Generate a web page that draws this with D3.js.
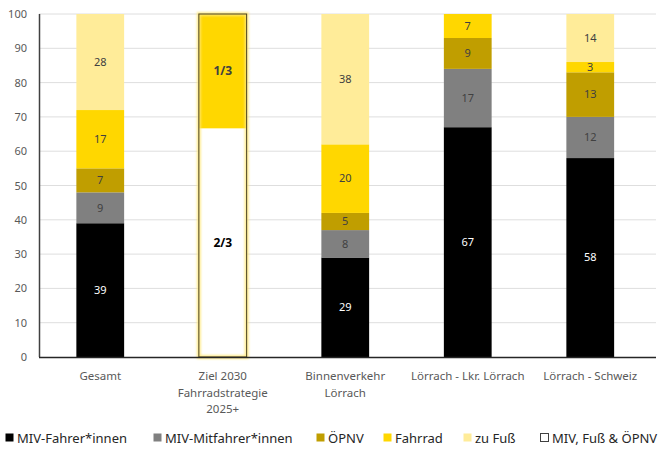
<!DOCTYPE html>
<html>
<head>
<meta charset="utf-8">
<script src="https://cdn.jsdelivr.net/npm/d3@7"></script>
<style>
  html, body { margin: 0; padding: 0; background: #fff; }
  svg { display: block; font-family: "Noto Sans", "Open Sans", sans-serif; }
</style>
</head>
<body>
<svg id="chart" width="662" height="450"></svg>
<script>
// Modal split per relation (percent)
const categories = ["Gesamt", "Ziel 2030|Fahrradstrategie|2025+", "Binnenverkehr|Lörrach", "Lörrach - Lkr. Lörrach", "Lörrach - Schweiz"];
const seriesNames = ["MIV-Fahrer*innen", "MIV-Mitfahrer*innen", "ÖPNV", "Fahrrad", "zu Fuß", "MIV, Fuß & ÖPNV"];
const mivFahrer    = [39, 0, 29, 67, 58];
const mivMitfahrer = [9, 0, 8, 17, 12];
const oepnv        = [7, 0, 5, 9, 13];
const fahrrad      = [17, 100 / 3, 20, 7, 3];
const zuFuss       = [28, 0, 38, 0, 14];
const mivFussOepnv = [0, 200 / 3, 0, 0, 0];
// labels for the target shares of the 2030 strategy
const fractionLabels = { "MIV, Fuß & ÖPNV": "2/3", "Fahrrad": "1/3" };
const yTicks = [0, 10, 20, 30, 40, 50, 60, 70, 80, 90, 100];

const colors = {
  "MIV-Fahrer*innen": "#000000",
  "MIV-Mitfahrer*innen": "#808080",
  "ÖPNV": "#C09E00",
  "Fahrrad": "#FFD700",
  "zu Fuß": "#FFEC99",
  "MIV, Fuß & ÖPNV": "#FFFFFF"
};
const labelColors = {
  "MIV-Fahrer*innen": "#ffffff",
  "MIV-Mitfahrer*innen": "#404040",
  "ÖPNV": "#404040",
  "Fahrrad": "#404040",
  "zu Fuß": "#404040",
  "MIV, Fuß & ÖPNV": "#000000"
};

// stacking order from bottom to top
const stackOrder = ["MIV, Fuß & ÖPNV", "MIV-Fahrer*innen", "MIV-Mitfahrer*innen", "ÖPNV", "Fahrrad", "zu Fuß"];
const valuesBySeries = {
  "MIV-Fahrer*innen": mivFahrer,
  "MIV-Mitfahrer*innen": mivMitfahrer,
  "ÖPNV": oepnv,
  "Fahrrad": fahrrad,
  "zu Fuß": zuFuss,
  "MIV, Fuß & ÖPNV": mivFussOepnv
};
const rows = categories.map((c, i) => {
  const r = { category: c };
  seriesNames.forEach(s => r[s] = valuesBySeries[s][i]);
  return r;
});

const svg = d3.select("#chart");
const margin = { left: 39, right: 10.5, top: 14, bottom: 93 };
const W = 662, H = 450;

const x = d3.scaleBand()
  .domain(categories)
  .range([margin.left, W - margin.right])
  .paddingInner(0.61)
  .paddingOuter(0.305);
const y = d3.scaleLinear().domain([0, 100]).range([H - margin.bottom, margin.top]);

// glow filter for the target bar
const defs = svg.append("defs");
const glow = defs.append("filter").attr("id", "glow")
  .attr("x", "-30%").attr("y", "-10%").attr("width", "160%").attr("height", "120%");
glow.append("feGaussianBlur").attr("stdDeviation", 1.3);

// gridlines
svg.append("g")
  .selectAll("line")
  .data(yTicks.filter(t => t > 0))
  .join("line")
  .attr("x1", margin.left).attr("x2", W - 6)
  .attr("y1", d => y(d)).attr("y2", d => y(d))
  .attr("stroke", "#dedede").attr("stroke-width", 1);

// y axis labels
const yAxis = d3.axisLeft(y).tickValues(yTicks).tickSize(0).tickPadding(12);
const gy = svg.append("g").attr("transform", `translate(${margin.left},0)`).call(yAxis);
gy.select(".domain").remove();
gy.selectAll("text").attr("fill", "#595959").attr("font-size", 11).attr("font-family", "Noto Sans, sans-serif");

// stacked bars
const stack = d3.stack().keys(stackOrder)(rows);
const targetIndex = 1;

const layers = svg.append("g").selectAll("g")
  .data(stack)
  .join("g")
  .attr("fill", d => colors[d.key]);

layers.selectAll("rect")
  .data(d => d.map(p => ({ key: d.key, p })))
  .join("rect")
  .filter(d => d.p[1] - d.p[0] > 0)
  .attr("x", d => x(d.p.data.category))
  .attr("width", x.bandwidth())
  .attr("y", d => y(d.p[1]))
  .attr("height", d => y(d.p[0]) - y(d.p[1]));

// outline + glow around the 2030 target bar
const tCat = categories[targetIndex];
const tTop = d3.max(stack, s => s[targetIndex][1]);
const tg = svg.append("g");
tg.append("rect")
  .attr("x", x(tCat)).attr("width", x.bandwidth())
  .attr("y", y(tTop)).attr("height", y(0) - y(tTop))
  .attr("fill", "none").attr("stroke", "#FFE97A").attr("stroke-width", 4)
  .attr("stroke-opacity", 0.85)
  .attr("filter", "url(#glow)");
tg.append("rect")
  .attr("x", x(tCat)).attr("width", x.bandwidth())
  .attr("y", y(tTop)).attr("height", y(0) - y(tTop))
  .attr("fill", "none").attr("stroke", "#4a4020").attr("stroke-width", 1);

// value labels
const labels = svg.append("g").attr("text-anchor", "middle");
stack.forEach(s => {
  s.forEach(p => {
    const v = p[1] - p[0];
    if (v <= 0) return;
    const frac = p.data.category === tCat ? fractionLabels[s.key] : null;
    labels.append("text")
      .attr("x", x(p.data.category) + x.bandwidth() / 2)
      .attr("y", y((p[0] + p[1]) / 2))
      .attr("dy", "0.35em")
      .attr("font-size", frac ? 12 : 11)
      .attr("font-weight", frac ? "bold" : "normal")
      .attr("fill", labelColors[s.key])
      .text(frac || d3.format("d")(v));
  });
});

// axis lines
svg.append("line")
  .attr("x1", margin.left + 0.5).attr("x2", margin.left + 0.5)
  .attr("y1", y(100)).attr("y2", y(0))
  .attr("stroke", "#404040").attr("stroke-width", 1.5);
svg.append("line")
  .attr("x1", margin.left).attr("x2", W - 6)
  .attr("y1", y(0) + 0.5).attr("y2", y(0) + 0.5)
  .attr("stroke", "#262626").attr("stroke-width", 1.5);

// category labels (multi-line)
const xl = svg.append("g").attr("text-anchor", "middle")
  .attr("font-size", 11.5).attr("fill", "#595959");
categories.forEach(c => {
  const t = xl.append("text")
    .attr("x", x(c) + x.bandwidth() / 2)
    .attr("y", y(0) + 23);
  c.split("|").forEach((line, i) => {
    t.append("tspan")
      .attr("x", x(c) + x.bandwidth() / 2)
      .attr("dy", i === 0 ? 0 : 16.5)
      .text(line);
  });
});

// legend
const legendX = [5, 153, 316, 383, 463, 540];
const legend = svg.append("g").attr("transform", "translate(0,438)");
const legendOrder = ["MIV-Fahrer*innen", "MIV-Mitfahrer*innen", "ÖPNV", "Fahrrad", "zu Fuß", "MIV, Fuß & ÖPNV"];
legendOrder.forEach((s, i) => {
  const g = legend.append("g").attr("transform", `translate(${legendX[i]},0)`);
  g.append("rect")
    .attr("x", 0.5).attr("y", -4.5).attr("width", 8).attr("height", 8)
    .attr("fill", colors[s])
    .attr("stroke", s === "MIV, Fuß & ÖPNV" ? "#404040" : "none");
  g.append("text")
    .attr("x", 12).attr("y", 0).attr("dy", "0.35em")
    .attr("font-size", 13).attr("fill", "#262626")
    .text(s);
});
</script>
</body>
</html>
